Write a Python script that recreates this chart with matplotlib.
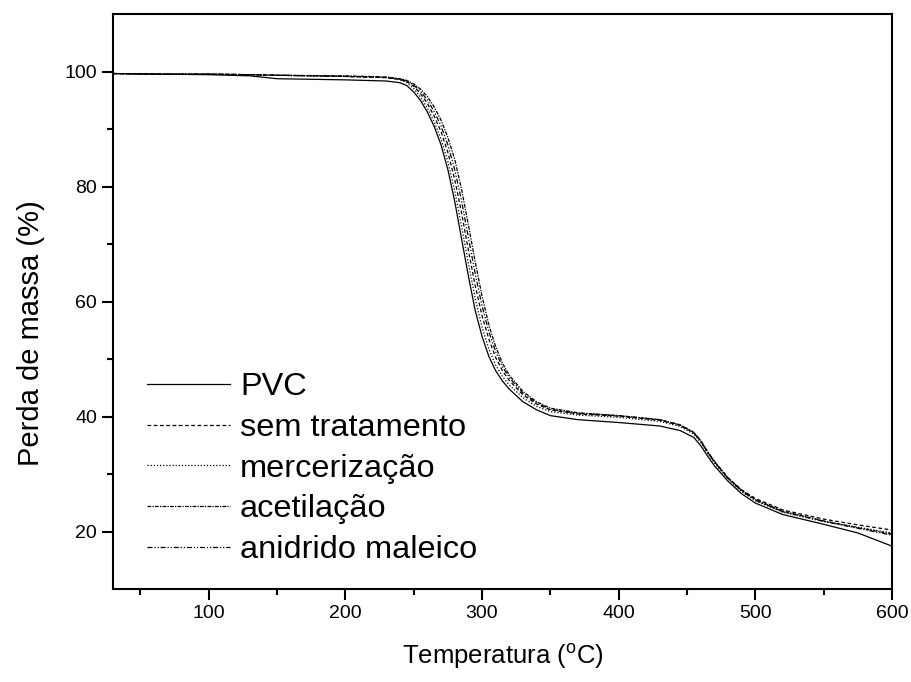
import matplotlib
matplotlib.use("Agg")
import matplotlib.pyplot as plt
import numpy as np

plt.rcParams['font.family'] = ['Liberation Sans', 'DejaVu Sans']
plt.rcParams['mathtext.fontset'] = 'custom'
plt.rcParams['mathtext.rm'] = 'Liberation Sans'
plt.rcParams['mathtext.it'] = 'Liberation Sans:italic'

# temperatura (C)
temp = [30, 60, 100, 130, 150, 200, 230, 240, 245, 250, 255, 260, 265, 270,
        275, 280, 285, 290, 295, 300, 305, 310, 315, 320, 330, 340, 350, 370,
        400, 430, 445, 455, 460, 465, 470, 480, 490, 500, 520, 550, 575, 600]

pvc = [99.7, 99.6, 99.5, 99.3, 98.8, 98.6, 98.4, 98.1, 97.6, 96.5, 95.0, 93.0,
       90.5, 87.3, 83.0, 77.5, 71.0, 64.5, 58.5, 54.0, 50.5, 48.0, 46.2, 44.8,
       42.6, 41.2, 40.2, 39.5, 39.0, 38.4, 37.6, 36.4, 35.0, 33.2, 31.5, 28.8,
       26.6, 25.0, 23.0, 21.3, 19.8, 17.5]
sem_trat = [99.7, 99.6, 99.6, 99.5, 99.4, 99.2, 99.0, 98.7, 98.3, 97.5, 96.2,
            94.5, 92.3, 89.6, 86.0, 81.3, 75.5, 69.0, 62.8, 57.6, 53.5, 50.3,
            48.0, 46.3, 43.8, 42.2, 41.2, 40.5, 40.1, 39.4, 38.5, 37.2, 35.8,
            33.9, 32.2, 29.4, 27.3, 25.8, 23.8, 22.2, 21.2, 20.3]
merc = [99.7, 99.6, 99.6, 99.5, 99.4, 99.2, 99.0, 98.6, 98.1, 97.1, 95.6, 93.7,
        91.3, 88.3, 84.4, 79.3, 73.2, 66.7, 60.6, 55.6, 51.8, 49.0, 47.0, 45.5,
        43.3, 41.8, 40.9, 40.3, 39.9, 39.2, 38.3, 37.0, 35.6, 33.7, 32.0, 29.2,
        27.0, 25.4, 23.4, 21.8, 20.8, 19.8]
acet = [99.7, 99.6, 99.6, 99.5, 99.4, 99.3, 99.1, 98.8, 98.5, 97.9, 97.0, 95.7,
        93.9, 91.6, 88.6, 84.8, 79.6, 73.4, 67.0, 61.0, 56.0, 52.2, 49.3, 47.2,
        44.4, 42.6, 41.5, 40.7, 40.2, 39.5, 38.6, 37.3, 35.9, 34.0, 32.3, 29.4,
        27.2, 25.6, 23.6, 21.9, 20.7, 19.6]
anid = [99.7, 99.6, 99.6, 99.5, 99.4, 99.2, 99.0, 98.7, 98.4, 97.7, 96.6, 95.1,
        93.1, 90.6, 87.3, 83.0, 77.6, 71.2, 64.9, 59.3, 54.8, 51.3, 48.7, 46.8,
        44.1, 42.4, 41.3, 40.6, 40.2, 39.5, 38.6, 37.2, 35.8, 33.9, 32.2, 29.3,
        27.1, 25.5, 23.5, 21.8, 20.6, 19.4]

labels = ['PVC', 'sem tratamento', 'mercerização', 'acetilação', 'anidrido maleico']
series = [pvc, sem_trat, merc, acet, anid]
styles = ['-', (0, (3, 2)), (0, (1, 1.5)), (0, (3, 1, 1, 1)), (0, (4, 1.5, 1, 1.5, 1, 1.5))]

fig = plt.figure(figsize=(9.12, 6.82), dpi=100)
ax = fig.add_axes([0.124, 0.136, 0.854, 0.843])

for y, lab, ls in zip(series, labels, styles):
    ax.plot(temp, y, color='black', lw=0.9, ls=ls, label=lab)

ax.set_xlim(30, 600)
ax.set_ylim(10, 110)
ax.set_xticks([100, 200, 300, 400, 500, 600])
ax.set_xticks(np.arange(50, 600, 100), minor=True)
ax.set_yticks([20, 40, 60, 80, 100])
ax.set_yticks([30, 50, 70, 90], minor=True)
ax.tick_params(which='both', direction='out', top=False, right=False, labelsize=14, width=1.5)
ax.tick_params(which='major', length=8)
ax.tick_params(which='minor', length=4)
for s in ax.spines.values():
    s.set_linewidth(1.5)

ax.set_xlabel('Temperatura ($^{\\mathrm{o}}$C)', fontsize=18.5, labelpad=14)
ax.set_ylabel('Perda de massa (%)', fontsize=21)
ax.yaxis.set_label_coords(-0.087, 0.445)

ax.legend(loc='lower left', bbox_to_anchor=(0.044, 0.042), frameon=False,
          fontsize=23.4, handlelength=2.55, handletextpad=0.3, labelspacing=0.33,
          borderpad=0, borderaxespad=0)

fig.savefig('out.png', dpi=100)
